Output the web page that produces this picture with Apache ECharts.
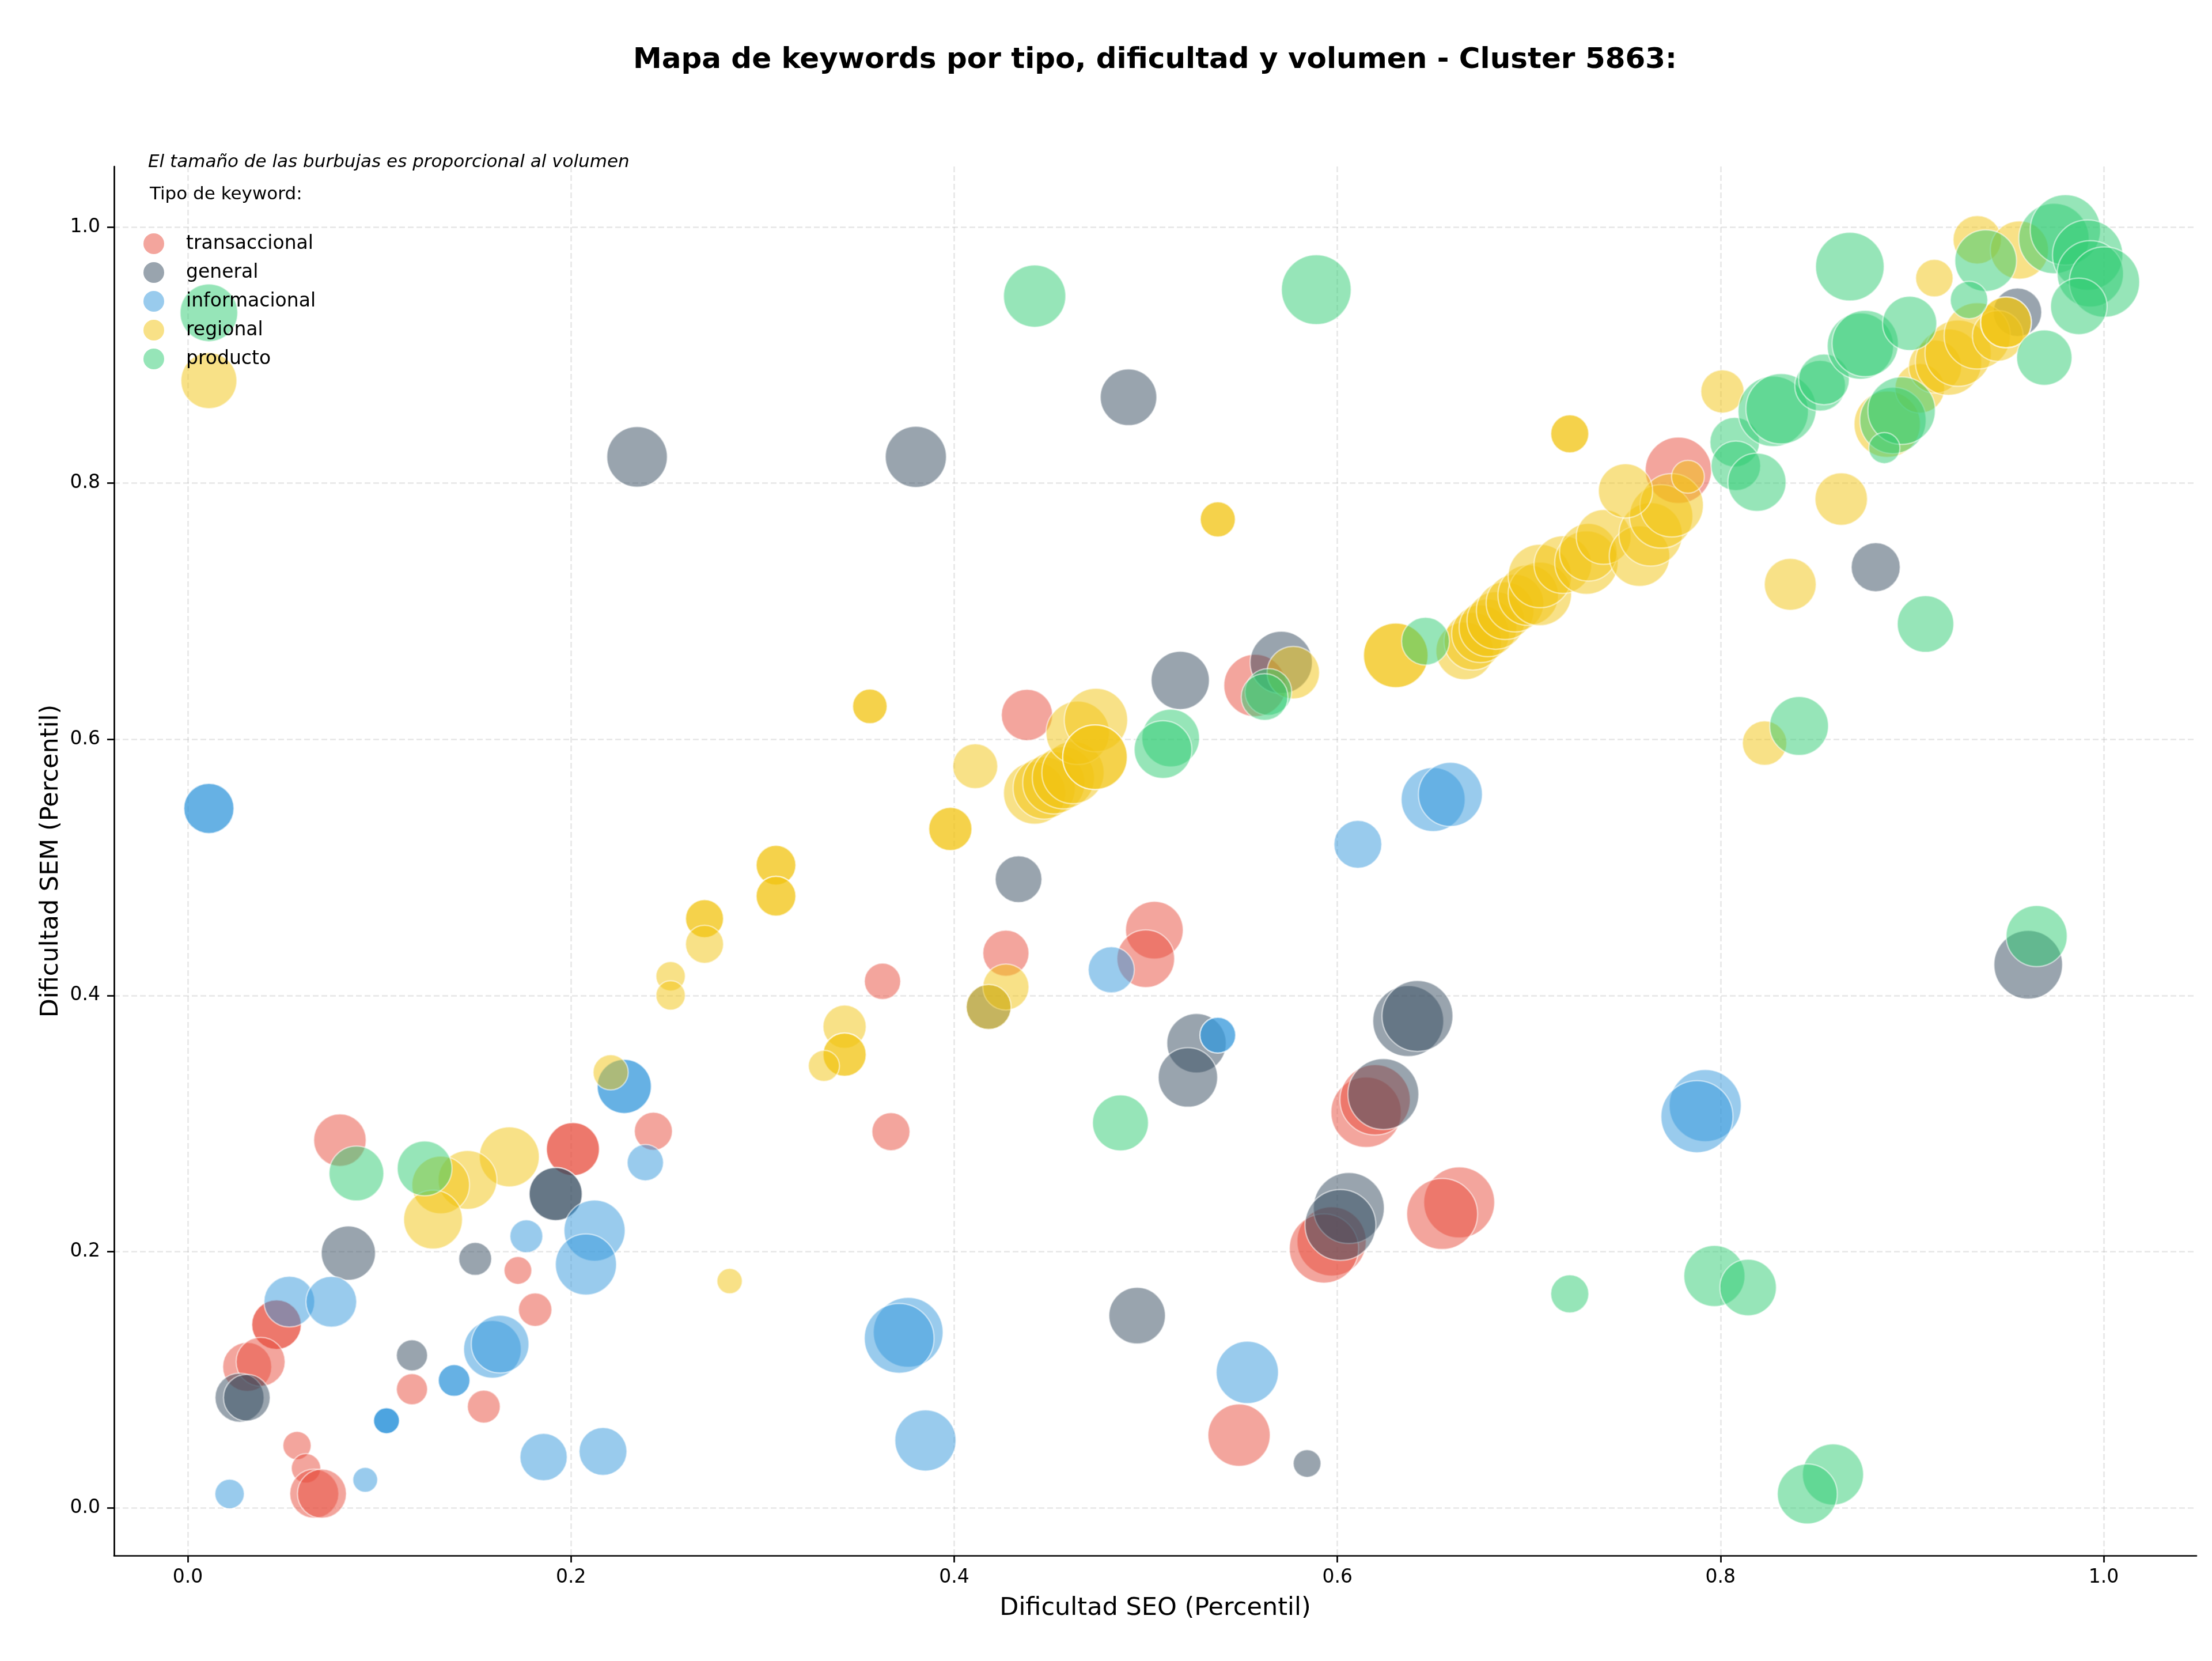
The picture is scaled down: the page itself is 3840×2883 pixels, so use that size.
<!DOCTYPE html>
<html>
<head>
<meta charset="utf-8">
<script src="https://cdn.jsdelivr.net/npm/echarts@6/dist/echarts.min.js"></script>
<style>
html,body{margin:0;padding:0;background:#fff;}
#chart{width:3840px;height:2883px;}
</style>
</head>
<body>
<div id="chart"></div>
<script>
// ---- Data: [dificultad SEO, dificultad SEM, volumen] ----
const typeNames = ['transaccional', 'general', 'informacional', 'regional', 'producto'];
const typeColors = ['#E74C3C', '#34495E', '#3498DB', '#F1C40F', '#2ECC71'];
const tickValues = [0, 0.2, 0.4, 0.6, 0.8, 1.0];

const transaccional = [
  [0.438,0.619,1267],[0.557,0.642,1866],[0.778,0.810,2116],[0.0794,0.287,1325],
  [0.243,0.294,697],[0.201,0.280,1354],[0.201,0.280,1354],[0.1723,0.1853,369],
  [0.1813,0.1547,538],[0.117,0.0926,467],[0.1545,0.079,520],
  [0.0463,0.143,1183],[0.0463,0.143,1183],[0.031,0.110,1156],[0.038,0.114,1156],
  [0.057,0.0486,384],[0.0617,0.0308,416],[0.066,0.011,1156],[0.070,0.011,1156],
  [0.3626,0.411,635],[0.367,0.2937,697],[0.427,0.433,1024],
  [0.5045,0.451,1600],[0.500,0.4287,1600],
  [0.615,0.3088,2381],[0.6197,0.3185,2381],
  [0.597,0.208,2304],[0.593,0.2025,2304],
  [0.6636,0.2384,2421],[0.6547,0.2294,2421],
  [0.5487,0.0567,1866]
];
const general = [
  [0.2345,0.8205,1764],[0.491,0.867,1537],[0.380,0.8205,1798],[0.518,0.646,1632],
  [0.5707,0.660,1866],[0.881,0.7344,1156],[0.955,0.9334,1129],
  [0.192,0.245,1354],[0.192,0.245,1354],[0.0838,0.1988,1414],[0.150,0.1943,520],
  [0.117,0.119,467],[0.027,0.086,1156],[0.0308,0.086,1050],
  [0.4336,0.4908,1050],[0.418,0.391,973],[0.5265,0.3627,1697],[0.522,0.336,1697],
  [0.637,0.380,2421],[0.6418,0.384,2421],[0.624,0.323,2421],
  [0.606,0.234,2421],[0.6016,0.2208,2421],
  [0.4955,0.150,1537],[0.5842,0.0346,369],[0.9606,0.424,2266]
];
const informacional = [
  [0.011,0.546,1211],[0.011,0.546,1211],[0.2278,0.329,1414],[0.2278,0.329,1414],
  [0.2388,0.2695,635],[0.2123,0.2164,1798],[0.2078,0.190,1798],[0.1767,0.212,520],
  [0.159,0.1237,1600],[0.163,0.1278,1600],[0.139,0.0994,484],[0.139,0.0994,484],
  [0.1037,0.068,324],[0.1037,0.068,324],[0.1037,0.068,324],
  [0.053,0.161,1239],[0.0749,0.1608,1239],[0.0926,0.0218,296],[0.0218,0.0108,416],
  [0.1857,0.0396,1076],[0.2167,0.044,1102],[0.482,0.420,1024],
  [0.5376,0.369,615],[0.5376,0.369,615],[0.553,0.1057,1866],
  [0.376,0.137,2343],[0.3713,0.1323,2343],[0.385,0.0526,1798],
  [0.6107,0.518,1102],[0.650,0.553,1971],[0.659,0.557,1971],
  [0.792,0.314,2500],[0.7877,0.3054,2500]
];
const regional = [
  [0.011,0.880,1505],
  [0.5376,0.7717,595],[0.5376,0.7717,595],[0.356,0.6257,576],[0.356,0.6257,576],
  [0.411,0.579,973],[0.398,0.530,900],[0.398,0.530,900],
  [0.307,0.5017,762],[0.307,0.5017,762],[0.307,0.4775,762],[0.307,0.4775,762],
  [0.2697,0.460,697],[0.2697,0.460,697],[0.2697,0.440,697],
  [0.252,0.415,416],[0.252,0.400,416],[0.2207,0.340,595],
  [0.1678,0.274,1731],[0.146,0.256,1665],[0.132,0.252,1600],[0.128,0.225,1665],
  [0.2828,0.177,310],[0.3428,0.3756,900],[0.3428,0.3538,900],[0.3428,0.3538,900],
  [0.332,0.345,467],[0.427,0.4066,1024],[0.418,0.391,973],
  [0.442,0.558,1866],[0.447,0.562,1866],[0.452,0.566,1866],[0.457,0.570,1866],[0.462,0.574,1866],
  [0.4645,0.605,1936],[0.474,0.615,1936],[0.4735,0.586,2007],[0.4735,0.586,2007],
  [0.577,0.652,1325],[0.6305,0.6655,2007],[0.6305,0.6655,2007],
  [0.6665,0.669,1600],[0.6707,0.6766,1600],[0.6747,0.6824,1600],[0.6786,0.687,1600],
  [0.6827,0.6928,1600],[0.6876,0.7004,1600],[0.6927,0.7063,1600],[0.6996,0.7125,1764],
  [0.7057,0.7135,1936],[0.7057,0.7275,1936],[0.7177,0.7364,1600],[0.730,0.738,1936],
  [0.731,0.746,1600],[0.739,0.758,1444],[0.7577,0.743,1764],[0.7635,0.760,1936],
  [0.769,0.774,1936],[0.7745,0.7827,1936],[0.7504,0.794,1414],
  [0.7213,0.8385,697],[0.7213,0.8385,697],[0.783,0.805,520],[0.801,0.8716,900],
  [0.863,0.7876,1325],[0.8364,0.721,1296],[0.823,0.597,949],
  [0.9116,0.960,676],[0.934,0.990,1129],[0.956,0.982,1632],
  [0.887,0.846,2116],[0.904,0.874,1183],[0.912,0.891,1354],[0.919,0.8945,2116],
  [0.924,0.9015,2116],[0.934,0.915,2116],[0.9447,0.915,1239],
  [0.949,0.9255,1239],[0.949,0.9255,1239]
];
const producto = [
  [0.011,0.933,1600],[0.442,0.946,1866],[0.589,0.951,2343],
  [0.513,0.601,1600],[0.509,0.592,1600],[0.564,0.637,1050],[0.562,0.633,1050],
  [0.646,0.6766,1102],[0.1236,0.265,1444],[0.088,0.261,1444],[0.4868,0.3005,1505],
  [0.965,0.4464,1798],[0.7213,0.167,697],[0.7968,0.181,1798],[0.8144,0.172,1537],
  [0.8587,0.026,1798],[0.8453,0.0108,1731],[0.841,0.6104,1665],[0.907,0.690,1537],
  [0.8074,0.832,1183],[0.808,0.8135,1183],[0.819,0.8007,1632],
  [0.8275,0.856,2381],[0.8316,0.858,2381],[0.852,0.876,1239],[0.854,0.881,1239],
  [0.873,0.907,2116],[0.8755,0.909,2116],[0.8987,0.9247,1414],[0.8675,0.969,2266],
  [0.9384,0.9737,1832],[0.974,0.991,2381],[0.980,0.9977,2381],[0.9916,0.978,2381],
  [0.993,0.9634,2116],[1.0004,0.957,2381],[0.987,0.938,1537],[0.9297,0.943,676],
  [0.969,0.898,1475],[0.890,0.849,2116],[0.8945,0.8566,2190],[0.8855,0.8274,467]
];
const seriesData = [transaccional, general, informacional, regional, producto];

// ---- Chart ----
const FONT = '"DejaVu Sans", "Liberation Sans", sans-serif';
const chart = echarts.init(document.getElementById('chart'), null, {renderer: 'canvas'});

function hexToRgba(hex, a) {
  const n = parseInt(hex.slice(1), 16);
  return 'rgba(' + ((n >> 16) & 255) + ',' + ((n >> 8) & 255) + ',' + (n & 255) + ',' + a + ')';
}

const axisCommon = {
  type: 'value',
  axisLine: {show: true, onZero: false, lineStyle: {color: '#000', width: 2.7}},
  axisTick: {show: true, inside: false, length: 12, lineStyle: {color: '#000', width: 2.7}, customValues: tickValues},
  axisLabel: {color: '#000', fontSize: 33, fontFamily: FONT, customValues: tickValues,
              formatter: v => Number(v).toFixed(1)},
  splitLine: {show: true, lineStyle: {color: 'rgba(176,176,176,0.3)', width: 2.7, type: [10, 5]}},
  nameLocation: 'middle',
  nameTextStyle: {color: '#000', fontSize: 43, fontFamily: FONT}
};

const option = {
  backgroundColor: '#fff',
  animation: false,
  grid: {left: 198, right: 27, top: 289, bottom: 183, containLabel: false},
  xAxis: Object.assign({}, axisCommon, {
    min: -0.0385, max: 1.0484, name: 'Dificultad SEO (Percentil)', nameGap: 70,
    axisLabel: Object.assign({}, axisCommon.axisLabel, {margin: 22})
  }),
  yAxis: Object.assign({}, axisCommon, {
    min: -0.0373, max: 1.0472, name: 'Dificultad SEM (Percentil)', nameGap: 81, nameRotate: 90,
    axisLabel: Object.assign({}, axisCommon.axisLabel, {margin: 24})
  }),
  legend: {
    orient: 'vertical', left: 244, top: 400, itemWidth: 36, itemHeight: 36, itemGap: 14,
    icon: 'circle',
    textStyle: {fontSize: 33, fontFamily: FONT, color: '#000', padding: [0, 0, 0, 33]},
    data: typeNames.map((n, i) => ({name: n, itemStyle: {color: hexToRgba(typeColors[i], 0.5), borderWidth: 0, opacity: 1}}))
  },
  graphic: [
    {type: 'text', x: 2005, y: 105,
     style: {text: 'Mapa de keywords por tipo, dificultad y volumen - Cluster 5863:',
             font: 'bold 50px ' + FONT, fill: '#000', textAlign: 'center', textVerticalAlign: 'middle'}},
    {type: 'text', x: 257, y: 282,
     style: {text: 'El tamaño de las burbujas es proporcional al volumen',
             font: 'italic 31px ' + FONT, fill: '#000', textAlign: 'left', textVerticalAlign: 'middle'}},
    {type: 'text', x: 260, y: 338,
     style: {text: 'Tipo de keyword:', font: '31px ' + FONT, fill: '#000', textAlign: 'left', textVerticalAlign: 'middle'}}
  ],
  series: typeNames.map((n, i) => ({
    name: n,
    type: 'scatter',
    data: seriesData[i],
    symbol: 'circle',
    symbolSize: v => Math.sqrt(v[2]) * 2.5,
    itemStyle: {color: typeColors[i], opacity: 0.5, borderColor: '#fff', borderWidth: 2.5},
    emphasis: {disabled: true}
  }))
};
chart.setOption(option);
</script>
</body>
</html>
